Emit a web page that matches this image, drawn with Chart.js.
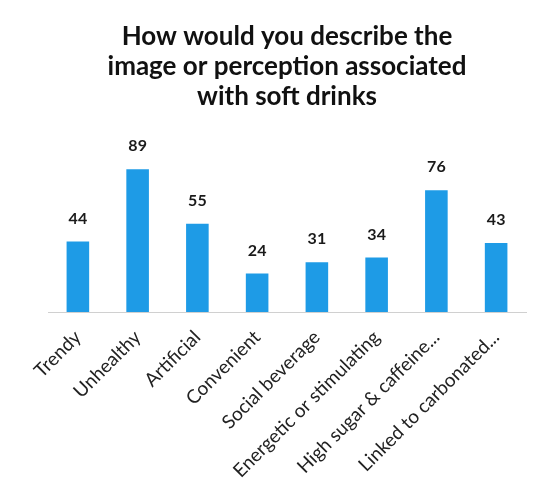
<!DOCTYPE html>
<html>
<head>
<meta charset="utf-8">
<script src="https://cdn.jsdelivr.net/npm/chart.js@4/dist/chart.umd.min.js"></script>
<style>
  html, body { margin: 0; padding: 0; background: #fff; }
  #wrap { width: 548px; height: 502px; }
</style>
</head>
<body>
<div id="wrap"><canvas id="perceptionChart" width="548" height="502"></canvas></div>
<script>
// chart data
const categories = ['Trendy', 'Unhealthy', 'Artificial', 'Convenient', 'Social beverage',
                    'Energetic or stimulating', 'High sugar & caffeine...', 'Linked to carbonated...'];
const responses = [44, 89, 55, 24, 31, 34, 76, 43];
const chartTitle = ['How would you describe the', 'image or perception associated', 'with soft drinks'];

// draw the value above each bar
const valueLabels = {
    id: 'valueLabels',
    afterDatasetsDraw(chart) {
        const ctx = chart.ctx;
        const meta = chart.getDatasetMeta(0);
        ctx.save();
        ctx.font = 'bold 16px Lato, sans-serif';
        ctx.fillStyle = '#1a1a1a';
        ctx.textAlign = 'center';
        ctx.textBaseline = 'bottom';
        meta.data.forEach((bar, i) => {
            ctx.fillText(responses[i], bar.x, bar.y - 15);
        });
        ctx.restore();
    }
};

const ctx = document.getElementById('perceptionChart').getContext('2d');
new Chart(ctx, {
    type: 'bar',
    data: {
        labels: categories,
        datasets: [{
            data: responses,
            backgroundColor: '#1e9be6',
            barPercentage: 0.63,
            categoryPercentage: 0.6
        }]
    },
    options: {
        responsive: false,
        animation: false,
        layout: {
            padding: { left: 48, right: 22, top: 0, bottom: 0 }
        },
        scales: {
            x: {
                grid: { display: false },
                border: { display: true, color: '#d0d0d0' },
                ticks: {
                    color: '#222',
                    font: { family: 'Lato, sans-serif', size: 19 },
                    minRotation: 45,
                    maxRotation: 45,
                    autoSkip: false,
                    padding: 6
                },
                afterFit(scale) {
                    // keep the plot area where the picture has it
                    scale.height = 190;
                    scale.paddingLeft = 0;
                    scale.paddingRight = 0;
                }
            },
            y: {
                display: false,
                min: 0,
                max: 100
            }
        },
        plugins: {
            legend: { display: false },
            tooltip: { enabled: false },
            title: {
                display: true,
                text: chartTitle,
                color: '#111',
                font: { family: 'Lato, sans-serif', size: 26, weight: 'bold', lineHeight: 1.15 },
                padding: { top: 22, bottom: 40 }
            }
        }
    },
    plugins: [valueLabels]
});
</script>
</body>
</html>
